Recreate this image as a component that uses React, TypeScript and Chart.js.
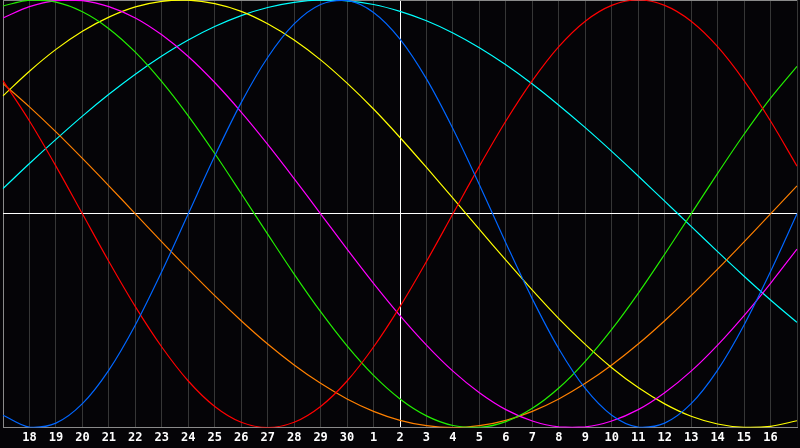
import { useEffect, useRef } from 'react';
import { Chart, registerables } from 'chart.js';

Chart.register(...registerables);

const dayLabels = ['', '18', '19', '20', '21', '22', '23', '24', '25', '26', '27', '28', '29', '30',
  '1', '2', '3', '4', '5', '6', '7', '8', '9', '10', '11', '12', '13', '14', '15', '16', ''];
const todayLabelIndex = 15;

const physical = [-94.2, -99.8, -97.9, -88.8, -73.1, -52.0, -27.0, 0, 27.0, 52.0, 73.1, 88.8, 97.9, 99.8, 94.2, 81.7, 63.1, 39.8, 13.6, -13.6, -39.8, -63.1, -81.7, -94.2, -99.8, -97.9, -88.8, -73.1, -52.0, -27.0, 0];
const emotional = [62.3, 43.4, 22.3, 0, -22.3, -43.4, -62.3, -78.2, -90.1, -97.5, -100, -97.5, -90.1, -78.2, -62.3, -43.4, -22.3, 0, 22.3, 43.4, 62.3, 78.2, 90.1, 97.5, 100, 97.5, 90.1, 78.2, 62.3, 43.4, 22.3];
const intellectual = [97.2, 99.9, 99.0, 94.5, 86.6, 75.6, 61.8, 45.8, 28.2, 9.5, -9.5, -28.2, -45.8, -61.8, -75.6, -86.6, -94.5, -99.0, -99.9, -97.2, -91.0, -81.5, -69.0, -54.1, -37.2, -18.9, 0, 18.9, 37.2, 54.1, 69.0];
const intuitive = [91.6, 96.9, 99.7, 99.7, 96.9, 91.6, 83.7, 73.6, 61.4, 47.6, 32.5, 16.5, 0, -16.5, -32.5, -47.6, -61.4, -73.6, -83.7, -91.6, -96.9, -99.7, -99.7, -96.9, -91.6, -83.7, -73.6, -61.4, -47.6, -32.5, -16.5];
const aesthetic = [55.2, 66.7, 76.9, 85.4, 92.0, 96.8, 99.4, 99.9, 98.3, 94.7, 88.9, 81.3, 72.0, 61.1, 49.0, 35.7, 21.7, 7.3, -7.3, -21.7, -35.7, -49.0, -61.1, -72.0, -81.3, -88.9, -94.7, -98.3, -99.9, -99.4, -96.8];
const awareness = [60.9, 50, 38.3, 25.9, 13.1, 0, -13.1, -25.9, -38.3, -50, -60.9, -70.7, -79.3, -86.6, -92.4, -96.6, -99.1, -100, -99.1, -96.6, -92.4, -86.6, -79.3, -70.7, -60.9, -50, -38.3, -25.9, -13.1, 0, 13.1];
const spiritual = [11.8, 23.5, 34.8, 45.7, 55.9, 65.3, 73.8, 81.3, 87.6, 92.7, 96.5, 98.9, 100.0, 99.6, 97.9, 94.7, 90.3, 84.6, 77.7, 69.7, 60.7, 50.8, 40.3, 29.2, 17.7, 5.9, -5.9, -17.7, -29.2, -40.3, -50.8];

const seriesNames = ['Physical', 'Emotional', 'Intellectual', 'Intuitive', 'Aesthetic', 'Awareness', 'Spiritual'];
const seriesValues = [physical, emotional, intellectual, intuitive, aesthetic, awareness, spiritual];
const seriesColors = ['#0066ff', '#ff0000', '#22ee00', '#ff00ff', '#ffff00', '#ff8000', '#00ffff'];

export default function App() {
  const ref = useRef<HTMLCanvasElement | null>(null);

  useEffect(() => {
    if (!ref.current) return;
    const chart = new Chart(ref.current, {
      type: 'line',
      data: {
        labels: dayLabels,
        datasets: seriesNames.map((name, i) => ({
          label: name,
          data: seriesValues[i],
          borderColor: seriesColors[i],
          borderWidth: 1.2,
          pointRadius: 0,
          tension: 0.33,
          fill: false,
        })),
      },
      options: {
        animation: false,
        responsive: false,
        devicePixelRatio: 1,
        layout: { padding: 0 },
        plugins: {
          legend: { display: false },
          tooltip: { enabled: false },
        },
        scales: {
          x: {
            type: 'category',
            offset: false,
            grid: {
              drawTicks: false,
              color: (ctx: any) => {
                if (ctx.index === 0) return '#8a8a8a';
                if (ctx.index === todayLabelIndex) return '#ffffff';
                return '#363636';
              },
              lineWidth: 1,
            },
            border: { display: true, color: '#8a8a8a', width: 1 },
            ticks: {
              autoSkip: false,
              maxRotation: 0,
              padding: 3,
              color: '#ffffff',
              font: { family: 'DejaVu Sans Mono', size: 12, weight: 'bold' },
            },
          },
          y: {
            min: -100,
            max: 100,
            ticks: { display: false, stepSize: 100 },
            border: { display: false },
            grid: {
              drawTicks: false,
              color: (ctx: any) => {
                if (ctx.tick && ctx.tick.value === 0) return '#ffffff';
                if (ctx.tick && ctx.tick.value === 100) return '#8a8a8a';
                return 'rgba(0,0,0,0)';
              },
            },
          },
        },
      },
    });
    return () => chart.destroy();
  }, []);

  return (
    <div style={{ position: 'fixed', left: 0, top: 0, width: 800, height: 448, background: '#050407' }}>
      <canvas ref={ref} width={800} height={448} style={{ display: 'block' }} />
    </div>
  );
}
